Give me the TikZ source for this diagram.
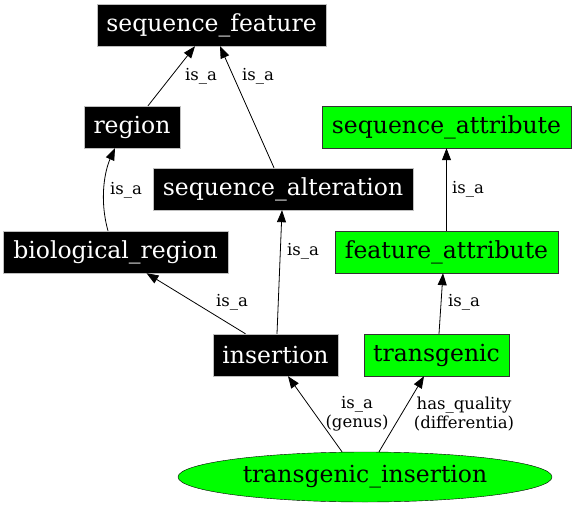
\documentclass[tikz,border=0pt]{standalone}
\usepackage{fontspec}
\setmainfont{DejaVu Serif}
\usetikzlibrary{arrows.meta,shapes.geometric}
\definecolor{lgreen}{HTML}{00FF00}
\tikzset{
  blk/.style={rectangle,fill=black,draw=black!25,text=white,inner sep=0pt,font=\fontsize{23.5}{26}\selectfont,minimum height=42pt},
  grn/.style={rectangle,fill=lgreen,draw=black!80,text=black,inner sep=0pt,font=\fontsize{23.5}{26}\selectfont,minimum height=42pt},
  rel/.style={draw=black,line width=0.8pt,-{Triangle[length=12pt,width=9pt]}},
  lbl/.style={font=\fontsize{16.5}{19}\selectfont,inner sep=1pt}
}
\begin{document}
\begin{tikzpicture}[x=1pt,y=-1pt]
\useasboundingbox (0,0) rectangle (576,506);
\node[blk,minimum width=229pt] (sf) at (211.5,25) {sequence\_feature};
\node[blk,minimum width=96pt] (reg) at (132,127) {region};
\node[blk,minimum width=260pt] (sa) at (283,189) {sequence\_alteration};
\node[grn,minimum width=249pt] (sattr) at (446.5,127) {sequence\_attribute};
\node[blk,minimum width=225pt] (br) at (115.5,252) {biological\_region};
\node[grn,minimum width=223pt] (fa) at (446.5,252) {feature\_attribute};
\node[blk,minimum width=125pt] (ins) at (275.5,355) {insertion};
\node[grn,minimum width=145pt] (tg) at (436.5,355) {transgenic};
\node[ellipse,fill=lgreen,draw=black,inner sep=0pt,minimum width=374pt,minimum height=50pt,font=\fontsize{23.5}{26}\selectfont] (ti) at (365,477) {transgenic\_insertion};

\draw[rel] ([xshift=16pt]reg.north) -- ([xshift=-16.5pt]sf.south);
\node[lbl] (e1) at (201,76) {is\_a};
\draw[rel] ([xshift=-9pt]sa.north) -- ([xshift=8.5pt]sf.south);
\node[lbl] (e2) at (258,76) {is\_a};
\draw[rel] ([xshift=-7.5pt]br.north) .. controls +(-9,-32) and +(-10,22) .. ([xshift=-17pt]reg.south);
\node[lbl] (e3) at (126,190) {is\_a};
\draw[rel] ([xshift=-30pt]ins.north) -- ([xshift=31pt]br.south);
\node[lbl] (e4) at (232,302) {is\_a};
\draw[rel] ([xshift=1.5pt]ins.north) -- ([xshift=-1pt]sa.south);
\node[lbl] (e5) at (303,251) {is\_a};
\draw[rel] (fa.north) -- (sattr.south);
\node[lbl] (e6) at (468,189) {is\_a};
\draw[rel] ([xshift=2.5pt]tg.north) -- ([xshift=-3.5pt]fa.south);
\node[lbl] (e7) at (464,302) {is\_a};
\draw[rel] ([xshift=-23pt]ti.north) -- ([xshift=12.5pt]ins.south);
\node[lbl,align=center] (l1) at (357,414) {is\_a\\(genus)};
\draw[rel] ([xshift=14pt]ti.north) -- ([xshift=-12.5pt]tg.south);
\node[lbl,align=center] (l2) at (464,414) {has\_quality\\(differentia)};
\end{tikzpicture}
\end{document}
